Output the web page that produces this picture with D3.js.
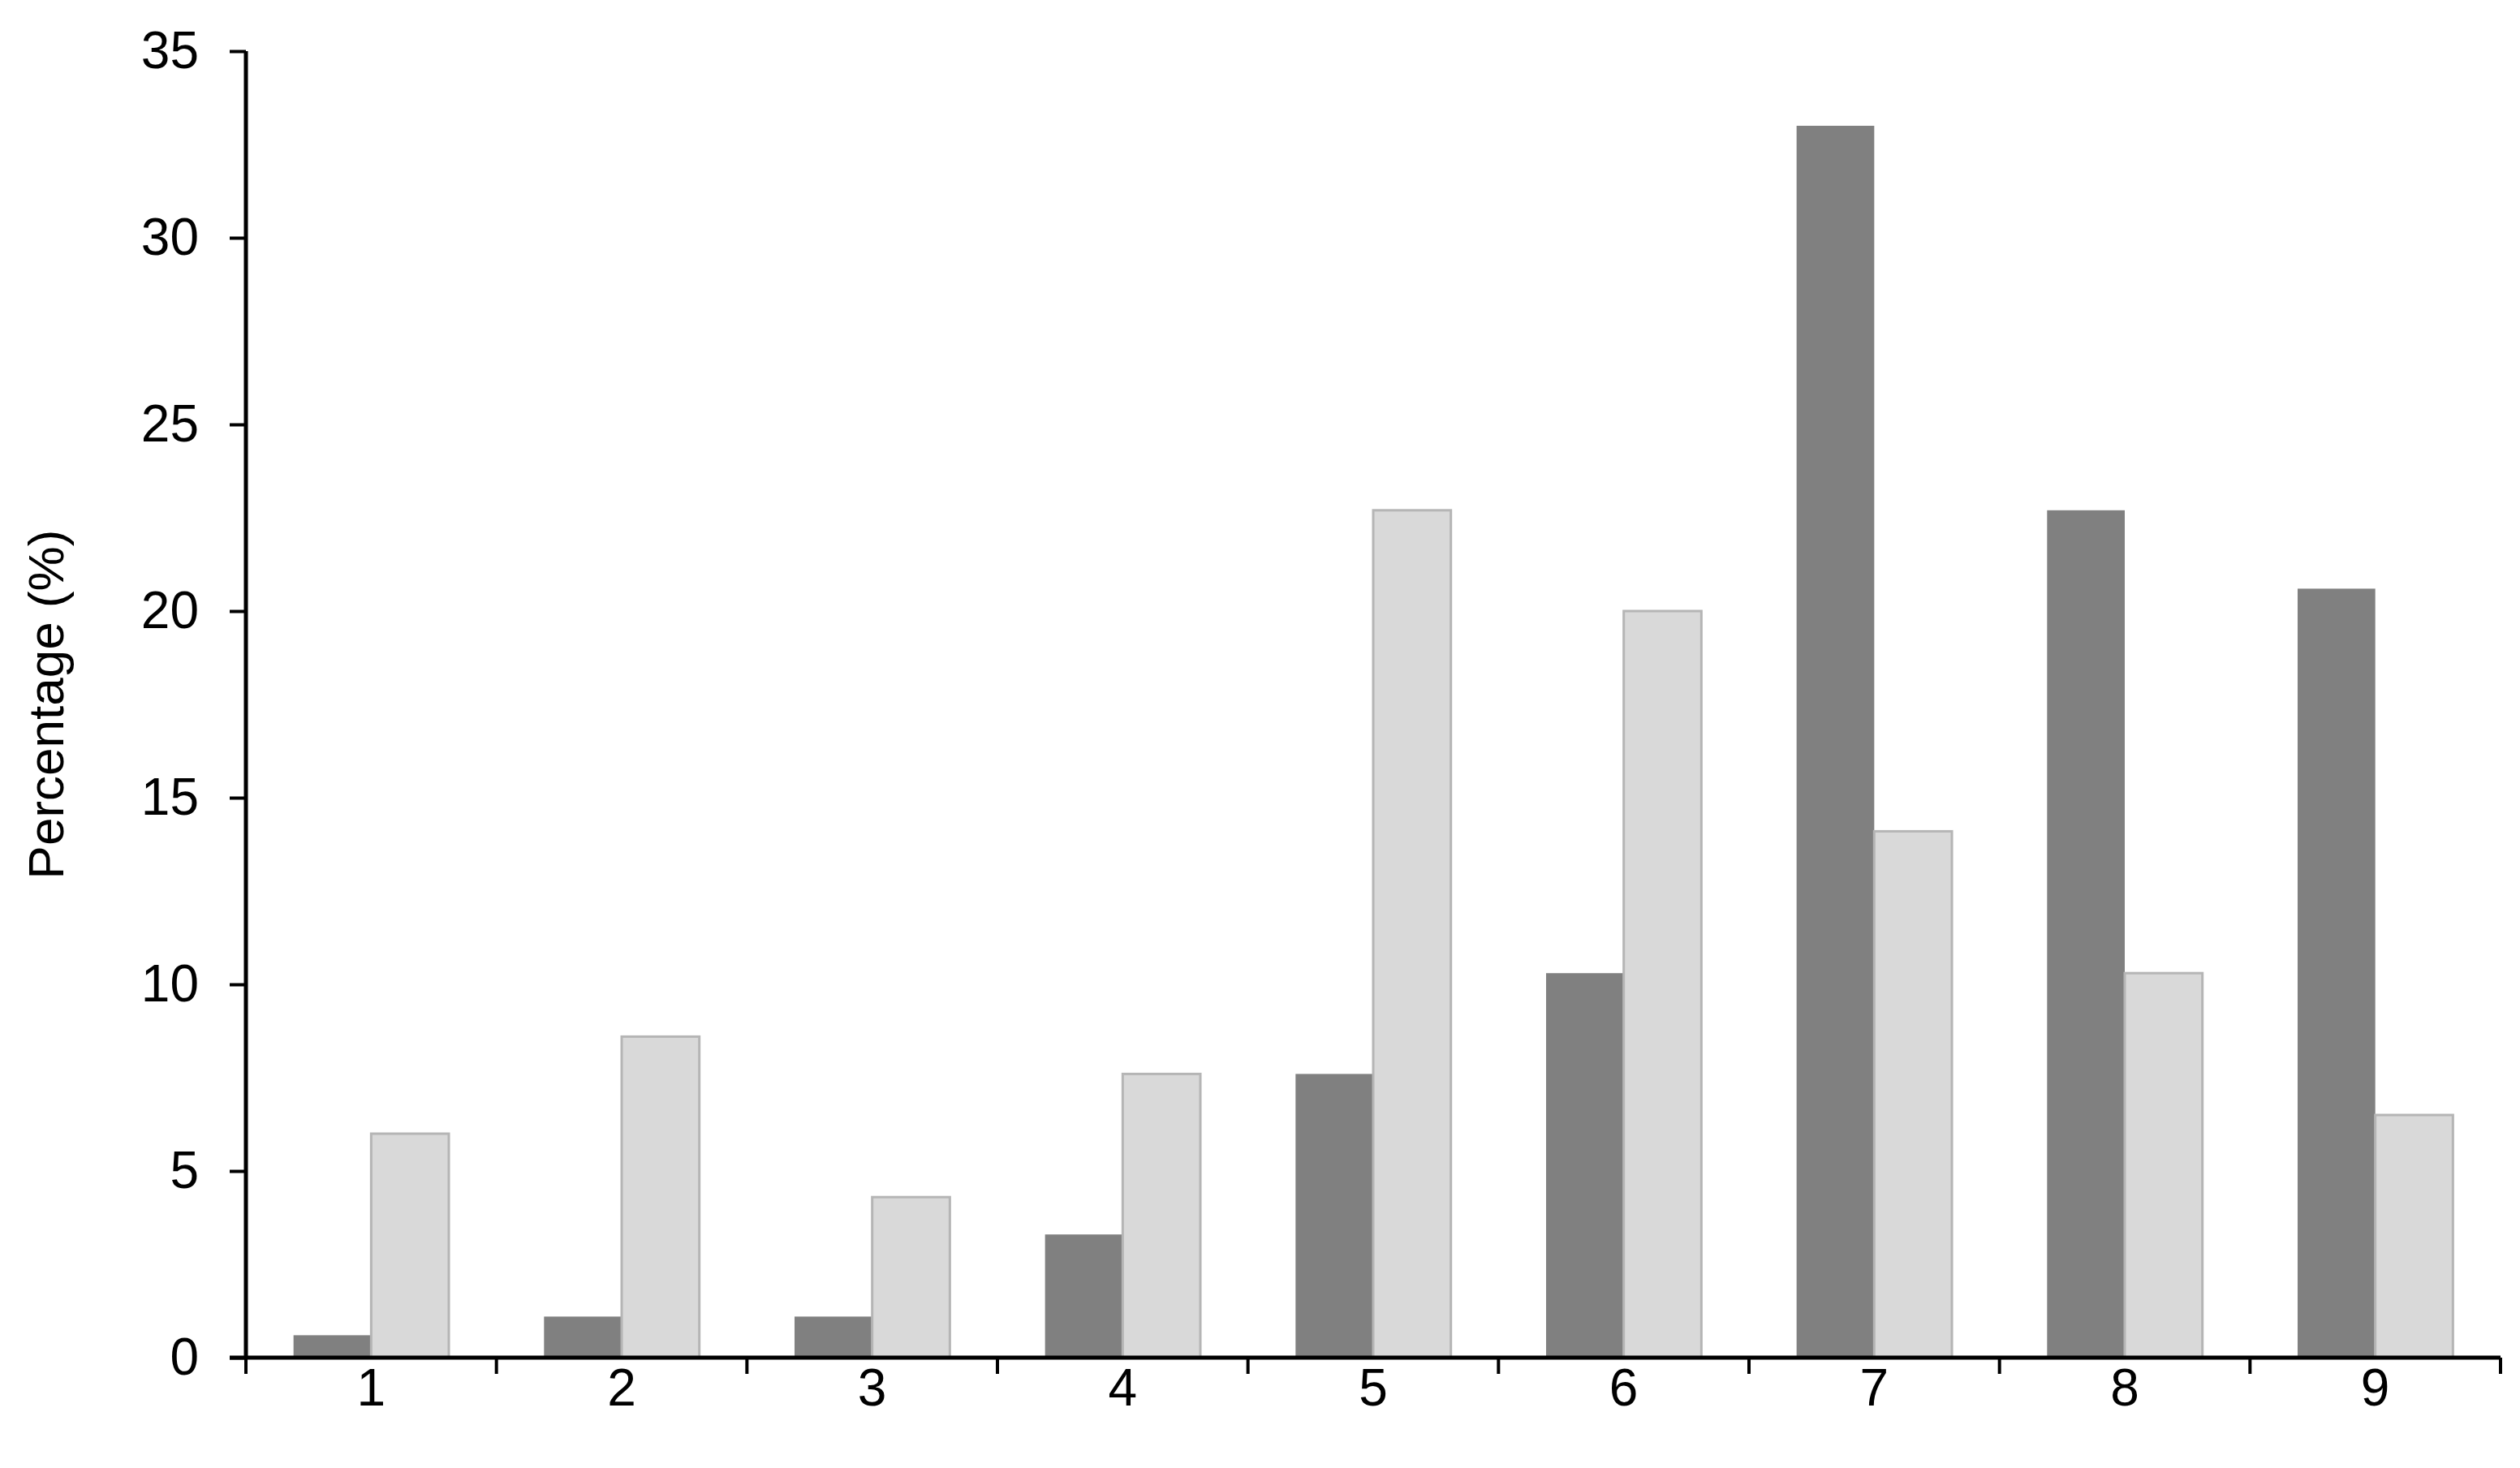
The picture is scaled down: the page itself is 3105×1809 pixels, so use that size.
<!DOCTYPE html>
<html>
<head>
<meta charset="UTF-8">
<script src="https://d3js.org/d3.v7.min.js"></script>
<style>body{margin:0;background:#fff}</style>
</head>
<body>
<script>
var categories = ["1","2","3","4","5","6","7","8","9"];
var seriesA = [0.6, 1.1, 1.1, 3.3, 7.6, 10.3, 33.0, 22.7, 20.6];
var seriesB = [6.0, 8.6, 4.3, 7.6, 22.7, 20.0, 14.1, 10.3, 6.5];
var yTicks = [0, 5, 10, 15, 20, 25, 30, 35];

var W = 3105, H = 1809;
var mLeft = 303, mRight = 3081, mTop = 63, mBottom = 1673;

var svg = d3.select("body").append("svg").attr("width", W).attr("height", H)
    .style("font-family", "Liberation Sans, Arial, sans-serif");

var x = d3.scaleBand().domain(categories).range([mLeft, mRight]);
var y = d3.scaleLinear().domain([0, 35]).range([mBottom, mTop]);

var bw = x.bandwidth() * 0.31;
var off = x.bandwidth() * 0.19;

svg.selectAll(".a").data(seriesA).enter().append("rect")
    .attr("x", (d, i) => x(categories[i]) + off)
    .attr("y", d => y(d)).attr("width", bw).attr("height", d => mBottom - y(d))
    .attr("fill", "#808080");

svg.selectAll(".b").data(seriesB).enter().append("rect")
    .attr("x", (d, i) => x(categories[i]) + off + bw)
    .attr("y", d => y(d)).attr("width", bw).attr("height", d => mBottom - y(d))
    .attr("fill", "#d9d9d9").attr("stroke", "#b5b5b5").attr("stroke-width", 3);

var ya = svg.append("g").attr("transform", "translate(" + mLeft + ",0)")
    .call(d3.axisLeft(y).tickValues(yTicks).tickSize(20).tickPadding(38));
var xa = svg.append("g").attr("transform", "translate(0," + mBottom + ")")
    .call(d3.axisBottom(x).tickSize(0).tickPadding(14));
// category boundary ticks
xa.selectAll(".sep").data(d3.range(categories.length + 1)).enter().append("line")
    .attr("x1", i => mLeft + i * x.bandwidth()).attr("x2", i => mLeft + i * x.bandwidth())
    .attr("y1", 0).attr("y2", 20).attr("stroke", "#000").attr("stroke-width", 4);

[ya, xa].forEach(g => {
    g.select(".domain").attr("stroke", "#000").attr("stroke-width", 5);
    g.selectAll(".tick line").attr("stroke", "#000").attr("stroke-width", 4);
    g.selectAll("text").attr("font-size", 64).attr("fill", "#000").attr("font-family", "Liberation Sans, Arial, sans-serif");
});
ya.select(".domain").attr("d", "M0," + mTop + "V" + mBottom);
xa.select(".domain").attr("d", "M" + (mLeft - 20) + ",0H" + mRight);

svg.append("text").attr("transform", "translate(78," + ((mTop + mBottom) / 2) + ") rotate(-90)")
    .attr("text-anchor", "middle").attr("font-size", 62).text("Percentage (%)");
</script>
</body>
</html>
